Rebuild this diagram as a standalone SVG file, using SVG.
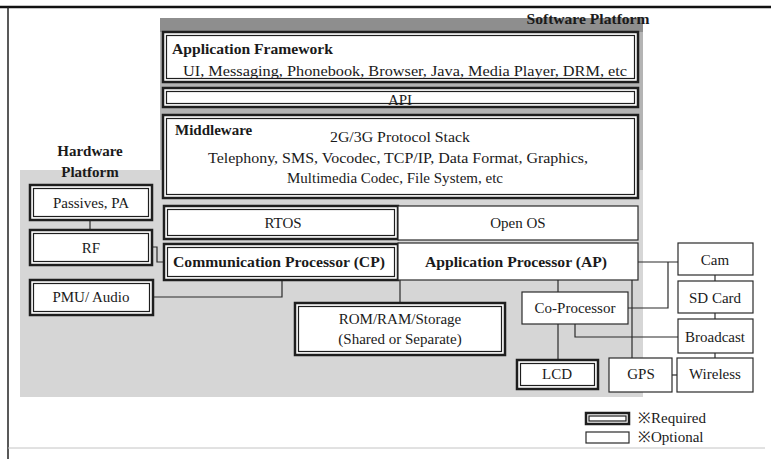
<svg xmlns="http://www.w3.org/2000/svg" width="771" height="459" viewBox="0 0 771 459">
<style>
text{font-family:'Liberation Serif','DejaVu Serif',serif;fill:#1a1a1a;font-size:15px}
.b{font-weight:bold}
.c{text-anchor:middle}
.ro{fill:#fff;stroke:#1e1e1e;stroke-width:2.5}
.ri{fill:none;stroke:#1e1e1e;stroke-width:1.2}
.op{fill:#fff;stroke:#2a2a2a;stroke-width:1.2}
.ln{fill:none;stroke:#2a2a2a;stroke-width:1.2}
</style>
<rect width="771" height="459" fill="#fff"/>
<g id="frame">
<line x1="0" y1="7" x2="771" y2="7" stroke="#111" stroke-width="2.5"/>
<line x1="8" y1="7" x2="8" y2="459" stroke="#222" stroke-width="1.5"/>
<line x1="8" y1="448" x2="765" y2="448" stroke="#c4c4c4" stroke-width="1"/>
</g>
<g id="software-platform">
<rect x="160" y="18" width="483" height="227" fill="#b4b4b4"/>
<rect x="160" y="18" width="483" height="14" fill="#8e8e8e"/>
<text x="588" y="24" class="b c" font-size="14" textLength="123" lengthAdjust="spacingAndGlyphs">Software Platform</text>
</g>
<g id="hardware-platform">
<rect x="20" y="170" width="623" height="227" fill="#d6d6d6"/>
<text x="90" y="156" class="b c">Hardware</text>
<text x="90" y="177" class="b c">Platform</text>
</g>
<g id="connectors">
<line class="ln" x1="90" y1="220" x2="90" y2="230"/>
<path class="ln" d="M152,247 H157 V262 H163"/>
<path class="ln" d="M153,297 H282 V280"/>
<line class="ln" x1="400" y1="280" x2="400" y2="303"/>
<line class="ln" x1="558" y1="280" x2="558" y2="292"/>
<line class="ln" x1="558" y1="324" x2="558" y2="360"/>
<path class="ln" d="M575,324 V337 H678"/>
<line class="ln" x1="638" y1="262" x2="678" y2="262"/>
<path class="ln" d="M668,262 V308 H628"/>
<line class="ln" x1="632" y1="280" x2="632" y2="358"/>
<line class="ln" x1="672" y1="375" x2="677" y2="375"/>
<line class="ln" x1="715" y1="275" x2="715" y2="281"/>
<line class="ln" x1="715" y1="313" x2="715" y2="319"/>
<line class="ln" x1="715" y1="353" x2="715" y2="358"/>
</g>
<g id="app-framework">
<rect class="ro" x="163" y="32" width="475" height="50"/>
<rect class="ri" x="166.5" y="35.5" width="468" height="43"/>
<text x="172" y="54" class="b" textLength="161" lengthAdjust="spacingAndGlyphs">Application Framework</text>
<text x="405" y="76" class="c" font-size="15.5" textLength="444" lengthAdjust="spacingAndGlyphs">UI, Messaging, Phonebook, Browser, Java, Media Player, DRM, etc</text>
</g>
<g id="api">
<rect class="ro" x="163" y="88" width="475" height="19"/>
<rect class="ri" x="166.5" y="91.5" width="468" height="12"/>
<text x="400" y="105" class="c">API</text>
</g>
<g id="middleware">
<rect class="ro" x="163" y="115" width="475" height="83"/>
<rect class="ri" x="166.5" y="118.5" width="468" height="76"/>
<text x="175" y="135" class="b">Middleware</text>
<text x="400" y="142" class="c" textLength="140" lengthAdjust="spacingAndGlyphs">2G/3G Protocol Stack</text>
<text x="398" y="163" class="c" textLength="380" lengthAdjust="spacingAndGlyphs">Telephony, SMS, Vocodec, TCP/IP, Data Format, Graphics,</text>
<text x="395" y="183" class="c" textLength="216" lengthAdjust="spacingAndGlyphs">Multimedia Codec, File System, etc</text>
</g>
<g id="rtos">
<rect class="ro" x="164" y="206" width="234" height="33"/>
<rect class="ri" x="167.5" y="209.5" width="227" height="26"/>
<text x="283" y="228" class="c">RTOS</text>
</g>
<g id="open-os">
<rect class="op" x="398" y="206" width="240" height="34"/>
<text x="518" y="228" class="c">Open OS</text>
</g>
<g id="cp">
<rect class="ro" x="164" y="244" width="234" height="36"/>
<rect class="ri" x="167.5" y="247.5" width="227" height="29"/>
<text x="279" y="267" class="b c" textLength="212" lengthAdjust="spacingAndGlyphs">Communication Processor (CP)</text>
</g>
<g id="ap">
<rect class="op" x="398" y="243" width="240" height="37"/>
<text x="516" y="267" class="b c" textLength="182" lengthAdjust="spacingAndGlyphs">Application Processor (AP)</text>
</g>
<g id="rom">
<rect class="ro" x="295" y="303" width="210" height="52"/>
<rect class="ri" x="298.5" y="306.5" width="203" height="45"/>
<text x="400" y="324" class="c">ROM/RAM/Storage</text>
<text x="400" y="344" class="c">(Shared or Separate)</text>
</g>
<g id="co-processor">
<rect class="op" x="522" y="292" width="106" height="32"/>
<text x="575" y="313" class="c">Co-Processor</text>
</g>
<g id="lcd">
<rect class="ro" x="517" y="360" width="81" height="29"/>
<rect class="ri" x="520.5" y="363.5" width="74" height="22"/>
<text x="557" y="379" class="c">LCD</text>
</g>
<g id="gps">
<rect class="op" x="609" y="358" width="63" height="34"/>
<text x="641" y="379" class="c">GPS</text>
</g>
<g id="wireless">
<rect class="op" x="677" y="358" width="76" height="34"/>
<text x="715" y="379" class="c">Wireless</text>
</g>
<g id="cam">
<rect class="op" x="678" y="243" width="75" height="32"/>
<text x="715" y="265" class="c">Cam</text>
</g>
<g id="sd-card">
<rect class="op" x="678" y="281" width="75" height="32"/>
<text x="715" y="303" class="c">SD Card</text>
</g>
<g id="broadcast">
<rect class="op" x="678" y="319" width="75" height="34"/>
<text x="715" y="342" class="c">Broadcast</text>
</g>
<g id="passives">
<rect class="ro" x="30" y="185" width="122" height="35"/>
<rect class="ri" x="33.5" y="188.5" width="115" height="28"/>
<text x="91" y="208" class="c">Passives, PA</text>
</g>
<g id="rf">
<rect class="ro" x="30" y="230" width="122" height="35"/>
<rect class="ri" x="33.5" y="233.5" width="115" height="28"/>
<text x="91" y="253" class="c">RF</text>
</g>
<g id="pmu">
<rect class="ro" x="30" y="280" width="123" height="35"/>
<rect class="ri" x="33.5" y="283.5" width="116" height="28"/>
<text x="91" y="302" class="c">PMU/ Audio</text>
</g>
<g id="legend">
<rect class="ro" x="586" y="413" width="43" height="11"/>
<rect class="ri" x="589" y="416" width="37" height="5"/>
<rect class="op" x="586" y="432" width="43" height="11"/>
<text x="638" y="423" font-size="13">※Required</text>
<text x="638" y="442" font-size="13">※Optional</text>
</g>
</svg>
